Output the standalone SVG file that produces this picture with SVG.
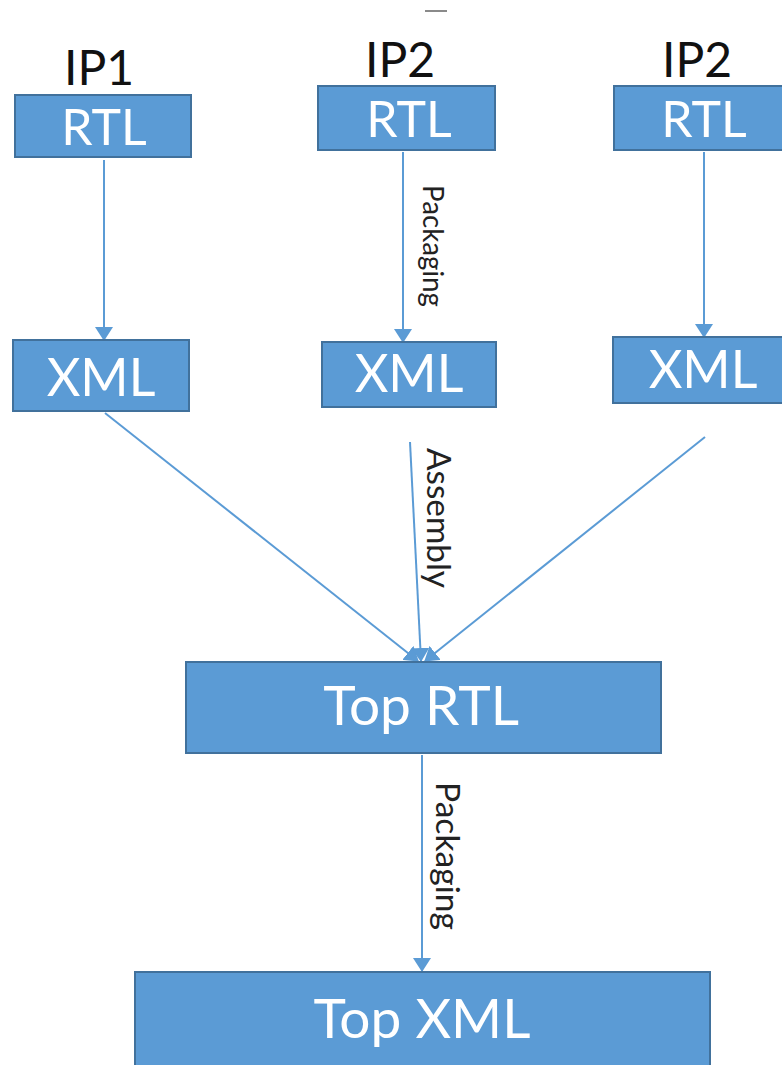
<svg xmlns="http://www.w3.org/2000/svg" width="782" height="1065" viewBox="0 0 782 1065">
  <style>
    .box { fill: #5B9BD5; stroke: #41719C; stroke-width: 2; }
    .lbl { fill: #FFFFFF; font-family: Lato, "Open Sans", "Liberation Sans", sans-serif; font-size: 50px; text-anchor: middle; }
    .lbl.xml { font-size: 52px; }
    .lbl.top { font-size: 55px; }
    .ip { fill: #111111; font-family: Lato, "Open Sans", "Liberation Sans", sans-serif; font-size: 48px; text-anchor: middle; }
    .edge { stroke: #5B9BD5; stroke-width: 2; fill: none; marker-end: url(#arrow); }
    .elbl { fill: #222222; font-family: Lato, "Open Sans", "Liberation Sans", sans-serif; }
  </style>
  <defs>
    <marker id="arrow" markerUnits="userSpaceOnUse" viewBox="0 0 14 18" markerWidth="14" markerHeight="18" refX="13" refY="9" orient="auto">
      <path d="M0,0 L14,9 L0,18 z" fill="#5B9BD5"/>
    </marker>
  </defs>
  <rect width="782" height="1065" fill="#FFFFFF"/>

  <!-- stray mark above the middle column -->
  <line x1="425" y1="11" x2="447" y2="11" stroke="#8A8A8A" stroke-width="2"/>

  <!-- column captions -->
  <text class="ip" x="99" y="85">IP1</text>
  <text class="ip" x="400" y="77">IP2</text>
  <text class="ip" x="697" y="77">IP2</text>

  <g id="connectors">
    <line class="edge" x1="104" y1="160" x2="104" y2="340"/>
    <line class="edge" x1="403" y1="152" x2="403" y2="342"/>
    <line class="edge" x1="704" y1="152" x2="704" y2="337"/>
    <line class="edge" x1="105" y1="413" x2="418" y2="661"/>
    <line class="edge" x1="410" y1="442" x2="421" y2="661"/>
    <line class="edge" x1="705" y1="437" x2="425" y2="661"/>
    <line class="edge" x1="422" y1="755" x2="422" y2="971"/>
    <text class="elbl" transform="translate(423,185) rotate(90)" font-size="28" textLength="122" lengthAdjust="spacingAndGlyphs">Packaging</text>
    <text class="elbl" transform="translate(427,448) rotate(90)" font-size="33" textLength="140" lengthAdjust="spacingAndGlyphs">Assembly</text>
    <text class="elbl" transform="translate(436,782) rotate(90)" font-size="33" textLength="148" lengthAdjust="spacingAndGlyphs">Packaging</text>
  </g>

  <g id="rtl1">
    <rect class="box" x="15" y="95" width="176" height="62"/>
    <text class="lbl" x="104" y="145">RTL</text>
  </g>
  <g id="rtl2">
    <rect class="box" x="318" y="86" width="177" height="64"/>
    <text class="lbl" x="409" y="137">RTL</text>
  </g>
  <g id="rtl3">
    <rect class="box" x="614" y="86" width="180" height="64"/>
    <text class="lbl" x="704" y="137">RTL</text>
  </g>

  <g id="xml1">
    <rect class="box" x="13" y="340" width="176" height="71"/>
    <text class="lbl xml" x="101" y="396">XML</text>
  </g>
  <g id="xml2">
    <rect class="box" x="322" y="342" width="174" height="65"/>
    <text class="lbl xml" x="409" y="392">XML</text>
  </g>
  <g id="xml3">
    <rect class="box" x="613" y="337" width="180" height="66"/>
    <text class="lbl xml" x="703" y="388">XML</text>
  </g>

  <g id="top-rtl">
    <rect class="box" x="186" y="662" width="475" height="91"/>
    <text class="lbl top" x="421" y="725">Top RTL</text>
  </g>
  <g id="top-xml">
    <rect class="box" x="135" y="972" width="575" height="110"/>
    <text class="lbl top" x="422" y="1038">Top XML</text>
  </g>
</svg>
